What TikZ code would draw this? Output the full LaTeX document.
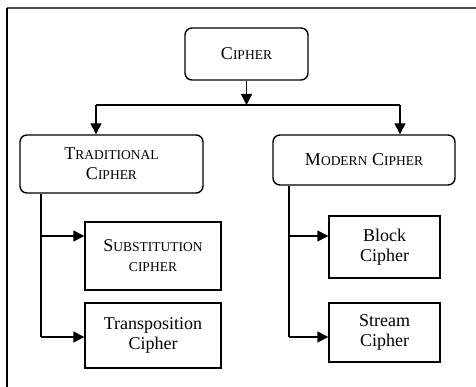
\documentclass[tikz,border=0pt]{standalone}
\usepackage{fontspec}
\setmainfont{Liberation Serif}
\usetikzlibrary{arrows.meta}
\newcommand\smc[1]{{\fontsize{13.5}{20}\selectfont #1}}
\tikzset{
  box/.style={draw, line width=1.4pt, align=center, inner sep=0pt,
    font=\fontsize{18}{20}\selectfont},
  rbox/.style={box, rounded corners=7pt},
  conn/.style={line width=1.4pt},
  arr/.style={conn, -{Triangle[length=11pt,width=11pt]}}
}
\begin{document}
\begin{tikzpicture}[x=1pt,y=-1pt]
\useasboundingbox (0,0) rectangle (476,387);
% frame
\draw[line width=1.3pt, color=black!70] (7,8) -- (476,8);
\draw[line width=1.3pt] (7,8) -- (7,387);
% nodes
\node[rbox, minimum width=123pt, minimum height=52pt] (cipher) at (246.5,54) {C\smc{IPHER}};
\node[rbox, minimum width=183pt, minimum height=58pt] (trad) at (111.5,164) {T\smc{RADITIONAL}\\C\smc{IPHER}};
\node[rbox, minimum width=182pt, minimum height=50pt] (modern) at (364,160) {M\smc{ODERN} C\smc{IPHER}};
\node[box, minimum width=136pt, minimum height=68pt] (subst) at (153,256) {S\smc{UBSTITUTION}\\\smc{CIPHER}};
\node[box, minimum width=136pt, minimum height=65pt] (transp) at (153,335.5) {Transposition\\Cipher};
\node[box, minimum width=111pt, minimum height=62pt] (block) at (384.5,247) {Block\\Cipher};
\node[box, minimum width=111pt, minimum height=59pt] (stream) at (384.5,332.5) {Stream\\Cipher};
% junctions
\coordinate (j) at (246.5,105);
\coordinate (jl) at (96,105);
\coordinate (jr) at (400,105);
\coordinate (la) at (41,236);
\coordinate (lb) at (41,337);
\coordinate (ra) at (289,236);
\coordinate (rb) at (289,337);
% connectors
\draw[arr] (cipher.south) -- (j);
\draw[conn] (jl) -- (jr);
\draw[arr] (jl) -- (jl |- trad.north);
\draw[arr] (jr) -- (jr |- modern.north);
\draw[conn] (la |- trad.south) -- (lb);
\draw[arr] (la) -- (la -| subst.west);
\draw[arr] (lb) -- (lb -| transp.west);
\draw[conn] (ra |- modern.south) -- (rb);
\draw[arr] (ra) -- (ra -| block.west);
\draw[arr] (rb) -- (rb -| stream.west);
\end{tikzpicture}
\end{document}
